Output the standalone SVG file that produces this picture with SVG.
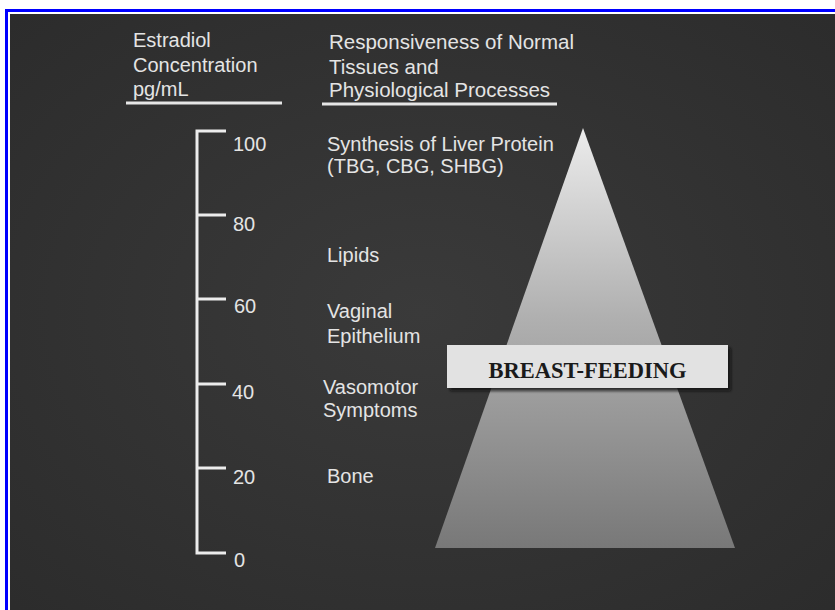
<svg xmlns="http://www.w3.org/2000/svg" width="835" height="610" viewBox="0 0 835 610">
<defs>
<radialGradient id="bg" cx="0.5" cy="0.5" r="0.7">
<stop offset="0" stop-color="#3a3a3a"/>
<stop offset="1" stop-color="#2c2c2c"/>
</radialGradient>
<linearGradient id="tri" x1="0" y1="0" x2="0" y2="1">
<stop offset="0" stop-color="#ececec"/>
<stop offset="0.45" stop-color="#b0b0b0"/>
<stop offset="1" stop-color="#787878"/>
</linearGradient>
<filter id="sh" x="-10%" y="-30%" width="120%" height="160%">
<feDropShadow dx="3" dy="3" stdDeviation="1.5" flood-color="#111" flood-opacity="0.8"/>
</filter>
<style>
.t{font-family:"Liberation Sans",Arial,sans-serif;font-size:20px;fill:#e4e4e4}
.n{font-family:"Liberation Sans",Arial,sans-serif;font-size:20px;fill:#e4e4e4}
.s{stroke:#ececec;stroke-width:3;fill:none}
.u{stroke:#e6e6e6;stroke-width:3}
</style>
</defs>
<rect x="0" y="0" width="835" height="610" fill="#ffffff"/>
<rect x="5" y="9" width="830" height="3" fill="#0000ff"/>
<rect x="5" y="9" width="3" height="601" fill="#0000ff"/>
<rect x="10" y="14" width="825" height="596" fill="url(#bg)"/>

<g id="header-left">
<text class="t" x="133" y="47">Estradiol</text>
<text class="t" x="133" y="72">Concentration</text>
<text class="t" x="133" y="96">pg/mL</text>
<line class="u" x1="126" y1="103" x2="282" y2="103"/>
</g>
<g id="header-right">
<text class="t" x="329" y="49" style="font-size:20.5px">Responsiveness of Normal</text>
<text class="t" x="329" y="74" style="font-size:20.5px">Tissues and</text>
<text class="t" x="329" y="97" style="font-size:20.5px">Physiological Processes</text>
<line class="u" x1="322" y1="104" x2="557" y2="104"/>
</g>

<g id="scale">
<path class="s" d="M226,131 H197 V553 H226 M197,215 H226 M197,299 H226 M197,384 H226 M197,468 H226"/>
<text class="n" x="233" y="151">100</text>
<text class="n" x="233" y="231">80</text>
<text class="n" x="234" y="313">60</text>
<text class="n" x="232" y="399">40</text>
<text class="n" x="233" y="484">20</text>
<text class="n" x="234" y="567">0</text>
</g>

<g id="pyramid">
<polygon points="583,128 435,548 735,548" fill="url(#tri)"/>
</g>

<g id="labels">
<g id="liver"><text class="t" x="327" y="151">Synthesis of Liver Protein</text>
<text class="t" x="327" y="173">(TBG, CBG, SHBG)</text></g>
<g id="lipids"><text class="t" x="327" y="262">Lipids</text></g>
<g id="vaginal"><text class="t" x="327" y="318">Vaginal</text>
<text class="t" x="327" y="343">Epithelium</text></g>
<g id="vasomotor"><text class="t" x="323" y="394">Vasomotor</text>
<text class="t" x="323" y="417">Symptoms</text></g>
<g id="bone"><text class="t" x="327" y="483">Bone</text></g>
</g>

<g id="breast-feeding">
<rect x="447" y="345" width="281" height="43" fill="#e2e2e2" filter="url(#sh)"/>
<text x="587.5" y="378" text-anchor="middle" style="font-family:'Liberation Serif','Times New Roman',serif;font-weight:bold;font-size:22.5px;fill:#1a1a1a">BREAST-FEEDING</text>
</g>
</svg>
